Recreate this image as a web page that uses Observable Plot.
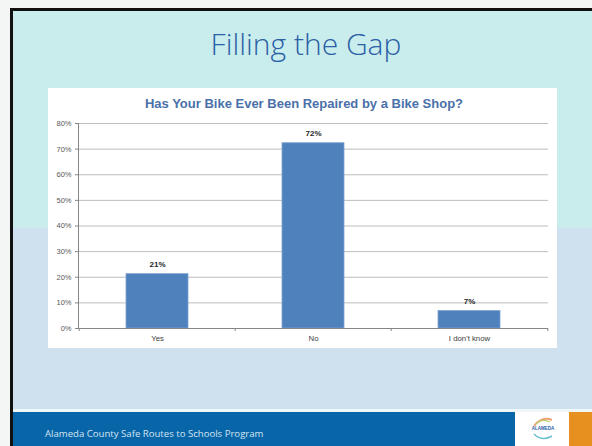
<!DOCTYPE html>
<html>
<head>
<meta charset="utf-8">
<script src="https://cdn.jsdelivr.net/npm/d3@7"></script>
<script src="https://cdn.jsdelivr.net/npm/@observablehq/plot@0.6"></script>
<style>
  html, body { margin: 0; padding: 0; }
  body { width: 592px; height: 446px; position: relative; overflow: hidden; background: #f4f6f6; font-family: "Liberation Sans", Arial, sans-serif; }
  .abs { position: absolute; }
</style>
</head>
<body>
<div class="abs" style="left:10px;top:8px;width:582px;height:438px;background:#111;"></div>
<div class="abs" style="left:13px;top:11px;width:579px;height:217px;background:#c9ecec;"></div>
<div class="abs" style="left:13px;top:228px;width:579px;height:181px;background:#cfe0ee;"></div>
<div class="abs" style="left:13px;top:409px;width:579px;height:3px;background:#eef6f8;"></div>
<div class="abs" style="left:13px;top:412px;width:502px;height:34px;background:#0866a8;"></div>
<div class="abs" style="left:515px;top:412px;width:54px;height:34px;background:#ffffff;"></div>
<div class="abs" style="left:569px;top:412px;width:23px;height:34px;background:#e8901f;"></div>
<svg class="abs" style="left:530px;top:414px;" width="26" height="30">
  <path d="M4 12 Q12 2 22 6" fill="none" stroke="#f0a070" stroke-width="2"/>
  <path d="M6 10 Q12 4 20 8" fill="none" stroke="#b8d070" stroke-width="1.2"/>
  <text x="13" y="16" text-anchor="middle" font-size="4.5" font-weight="bold" fill="#2a5ea8" font-family="Liberation Sans">ALAMEDA</text>
  <path d="M4 20 Q12 28 22 22" fill="none" stroke="#6cc0d0" stroke-width="1.5"/>
</svg>
<div class="abs" style="left:0;top:23px;width:612px;text-align:center;font-family:'Open Sans','Lato',sans-serif;font-weight:300;font-size:30px;color:#2b5fa6;">Filling the Gap</div>
<div class="abs" style="left:45px;top:427px;font-family:'Open Sans','Lato',sans-serif;font-size:9.6px;color:#d4e4f2;white-space:nowrap;">Alameda County Safe Routes to Schools Program</div>
<div id="box" class="abs" style="left:48px;top:88px;width:509px;height:260px;background:#ffffff;">
  <div class="abs" style="left:0;top:8px;width:512px;text-align:center;font-family:'Liberation Sans',Arial,sans-serif;font-weight:bold;font-size:13px;color:#4a70a9;">Has Your Bike Ever Been Repaired by a Bike Shop?</div>
  <div id="chart" class="abs" style="left:0;top:0;"></div>
</div>
<script>
const categories = ["Yes", "No", "I don't know"];
const values = [0.212, 0.723, 0.068];
const labels = ["21%", "72%", "7%"];
const yTicks = [0, 0.1, 0.2, 0.3, 0.4, 0.5, 0.6, 0.7, 0.8];

const data = categories.map((c, i) => ({category: c, value: values[i], label: labels[i]}));

const W = 509, H = 260;
const mL = 30, mR = 9, mT = 35, mB = 20;
const step = (W - mL - mR) / categories.length;

const chart = Plot.plot({
  width: W,
  height: H,
  marginLeft: mL,
  marginRight: mR,
  marginTop: mT,
  marginBottom: mB,
  style: {background: "transparent", fontFamily: "'Liberation Sans', Arial, sans-serif", fontSize: "7.5px", color: "#595959"},
  x: {domain: categories, paddingInner: 0.6, paddingOuter: 0.3, label: null},
  y: {domain: [0, 0.8], label: null},
  marks: [
    Plot.ruleY(yTicks.slice(1), {stroke: "#bdbdbd", strokeWidth: 1}),
    Plot.axisY({ticks: yTicks, tickFormat: d3.format(".0%"), tickSize: 3, tickPadding: 4, stroke: "#868686", fill: "#595959", label: null}),
    Plot.axisX({tickSize: 0, tickPadding: 7, fill: "#404040", fontSize: 7.8, label: null}),
    Plot.barY(data, {x: "category", y: "value", fill: "#4f81bd", stroke: "#7fa3d2", strokeWidth: 0.8}),
    Plot.ruleX(categories, {x: d => d, dx: -step / 2, y1: 0, y2: 0, stroke: "#868686", insetBottom: -3}),
    Plot.ruleX([categories[categories.length - 1]], {x: d => d, dx: step / 2, y1: 0, y2: 0, stroke: "#868686", insetBottom: -3}),
    Plot.ruleY([0], {stroke: "#868686"}),
    Plot.frame({anchor: "left", stroke: "#868686"}),
    Plot.text(data, {x: "category", y: "value", text: "label", dy: -10, fontWeight: "bold", fontSize: 8, fill: "#262626"})
  ]
});
document.getElementById("chart").appendChild(chart);
</script>
</body>
</html>
